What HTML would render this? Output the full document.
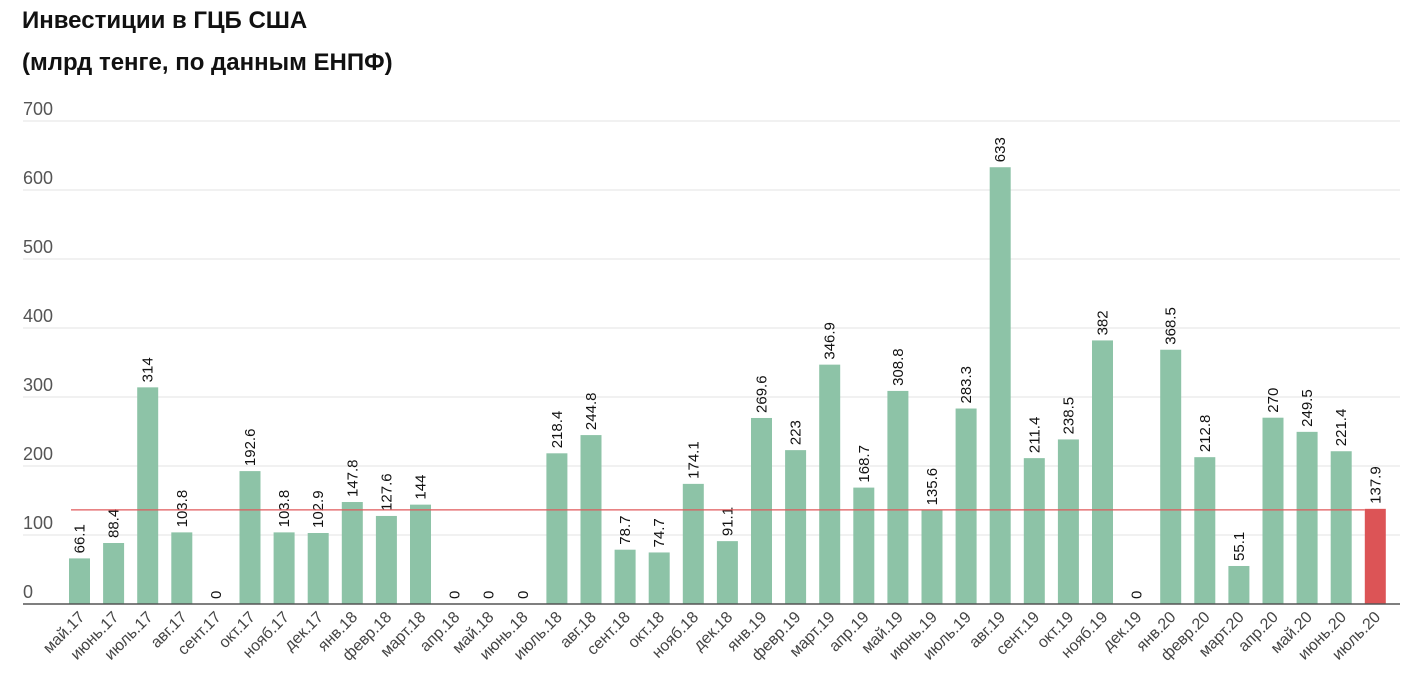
<!DOCTYPE html>
<html><head><meta charset="utf-8"><style>
body{margin:0;background:#fff;font-family:"Liberation Sans",sans-serif;}
.t{position:absolute;left:22px;font-weight:bold;font-size:24px;color:#111;}
</style></head><body>
<div class="t" style="top:7px">Инвестиции в ГЦБ США</div>
<div class="t" style="top:49px">(млрд тенге, по данным ЕНПФ)</div>
<svg id="c" width="1418" height="689" style="position:absolute;left:0;top:0" font-family="Liberation Sans, sans-serif"></svg>
<script>
const categories=["май.17","июнь.17","июль.17","авг.17","сент.17","окт.17","нояб.17","дек.17","янв.18","февр.18","март.18","апр.18","май.18","июнь.18","июль.18","авг.18","сент.18","окт.18","нояб.18","дек.18","янв.19","февр.19","март.19","апр.19","май.19","июнь.19","июль.19","авг.19","сент.19","окт.19","нояб.19","дек.19","янв.20","февр.20","март.20","апр.20","май.20","июнь.20","июль.20"];
const values=[66.1,88.4,314,103.8,0,192.6,103.8,102.9,147.8,127.6,144,0,0,0,218.4,244.8,78.7,74.7,174.1,91.1,269.6,223,346.9,168.7,308.8,135.6,283.3,633,211.4,238.5,382,0,368.5,212.8,55.1,270,249.5,221.4,137.9];
const yTicks=[0,100,200,300,400,500,600,700];
const refValue=137.9;
const svg=document.getElementById('c');const NS='http://www.w3.org/2000/svg';
function y(v){return 604-v*0.69;}
function x(i){return 69+i*34.1;}
const BW=21;
function mk(t,a,txt){const e=document.createElementNS(NS,t);for(const k in a)e.setAttribute(k,a[k]);if(txt!==undefined)e.textContent=txt;svg.appendChild(e);return e;}
yTicks.forEach(v=>{
 if(v>0){const g=mk('line',{x1:23,x2:1400,y1:y(v),y2:y(v),stroke:'#e3e3e3','stroke-width':1});
 
 }
 const t=mk('text',{x:23,y:y(v)-6,'font-size':18,fill:'#555'},v);
 
 
});
values.forEach((v,i)=>{
 const last=i===values.length-1;
 const r=mk('rect',{x:x(i),y:y(v),width:BW,height:604-y(v),fill:last?'#dc5456':'#8dc3a7'});
 
 
 const cx=x(i)+BW/2+5, ty=y(v)-5;
 const l=mk('text',{x:0,y:0,'font-size':15,fill:'#111',transform:`translate(${cx},${ty}) rotate(-90)`},v);
 
 
 const xl=mk('text',{x:0,y:0,'font-size':16,fill:'#444','text-anchor':'end',transform:`translate(${x(i)+BW/2+6},${618}) rotate(-45)`},categories[i]);
 
 
});
const ax=mk('line',{x1:23,x2:1400,y1:604,y2:604,stroke:'#555','stroke-width':1.5});


const rl=mk('line',{x1:71,x2:x(values.length-1),y1:y(refValue)+1,y2:y(refValue)+1,stroke:'#e05a5c','stroke-width':1.3});


</script>
</body></html>
